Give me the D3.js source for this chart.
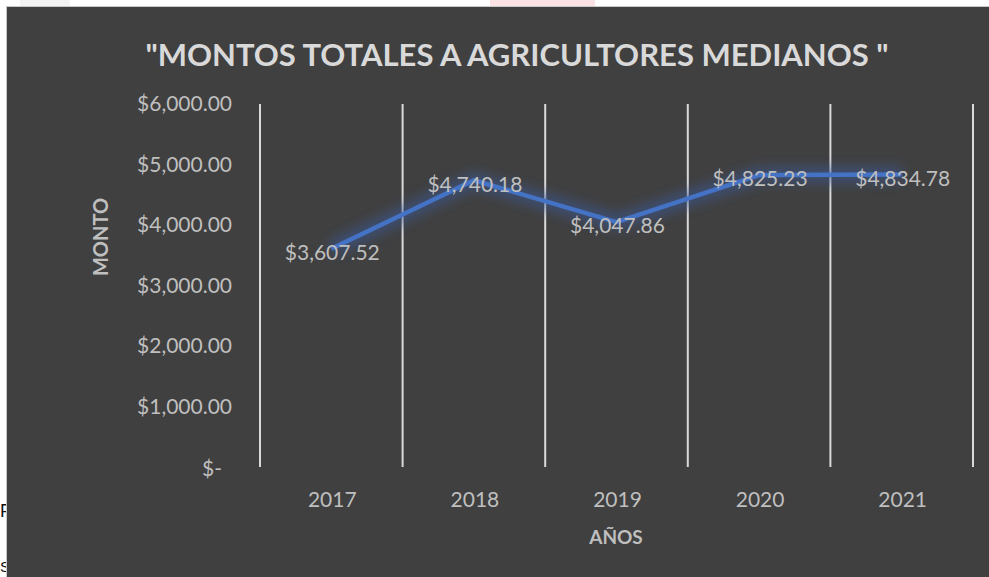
<!DOCTYPE html>
<html>
<head>
<meta charset="utf-8">
<script src="https://cdn.jsdelivr.net/npm/d3@7"></script>
<style>
  html, body { margin: 0; padding: 0; background: #ffffff; }
  svg { display: block; }
</style>
</head>
<body>
<div id="chart"></div>
<script>
// chart data
const years = ["2017", "2018", "2019", "2020", "2021"];
const montos = [3607.52, 4740.18, 4047.86, 4825.23, 4834.78];
const yTicks = [0, 1000, 2000, 3000, 4000, 5000, 6000];

const width = 989, height = 577;
const box = { left: 7, top: 7 };
const plot = { left: 260, right: 973, top: 104, bottom: 467 };

const svg = d3.select("#chart").append("svg")
    .attr("width", width)
    .attr("height", height);

// document text peeking out behind the chart on the left edge
svg.append("text").attr("x", 0).attr("y", 517)
    .attr("font-family", "Liberation Sans, sans-serif").attr("font-size", 18)
    .attr("fill", "#111").text("F");
svg.append("text").attr("x", 0).attr("y", 572)
    .attr("font-family", "Liberation Sans, sans-serif").attr("font-size", 15)
    .attr("fill", "#111").text("S");

// faint watermark strip on top
svg.append("rect").attr("x", 490).attr("y", 0).attr("width", 105).attr("height", box.top)
    .attr("fill", "#fbe3e5");
svg.append("rect").attr("x", 20).attr("y", 0).attr("width", 50).attr("height", box.top)
    .attr("fill", "#f3f3f3");

// chart area
svg.append("rect")
    .attr("x", box.left - 1).attr("y", box.top - 1)
    .attr("width", width - box.left + 1).attr("height", height - box.top + 1)
    .attr("fill", "#c9c9c9");
svg.append("rect")
    .attr("x", box.left).attr("y", box.top)
    .attr("width", width - box.left).attr("height", height - box.top)
    .attr("fill", "#404040");

const x = d3.scaleBand()
    .domain(years)
    .range([plot.left, plot.right]);

const y = d3.scaleLinear()
    .domain([0, 6000])
    .range([plot.bottom, plot.top]);

const fmt = d3.format(",.2f");

// vertical gridlines at category boundaries
const edges = years.map(d => x(d)).concat([x(years[years.length - 1]) + x.bandwidth()]);
svg.append("g")
    .selectAll("line")
    .data(edges)
    .join("line")
    .attr("x1", d => d).attr("x2", d => d)
    .attr("y1", plot.top).attr("y2", plot.bottom)
    .attr("stroke", "#d9d9d9")
    .attr("stroke-width", 2);

// y tick labels
svg.append("g")
    .attr("font-family", "Lato, sans-serif")
    .attr("font-size", 21)
    .attr("fill", "#bfbfbf")
    .selectAll("text")
    .data(yTicks)
    .join("text")
    .attr("x", d => d === 0 ? 222 : 232)
    .attr("y", d => y(d) + (d === 0 ? 2 : 0))
    .attr("dy", "0.35em")
    .attr("text-anchor", "end")
    .text(d => d === 0 ? "$-" : "$" + fmt(d));

// x tick labels
svg.append("g")
    .attr("font-family", "Lato, sans-serif")
    .attr("font-size", 21)
    .attr("fill", "#bfbfbf")
    .selectAll("text")
    .data(years)
    .join("text")
    .attr("x", d => x(d) + x.bandwidth() / 2 + 1)
    .attr("y", 500)
    .attr("dy", "0.35em")
    .attr("text-anchor", "middle")
    .text(d => d);

// axis titles
svg.append("text")
    .attr("x", 616).attr("y", 537).attr("dy", "0.35em")
    .attr("text-anchor", "middle")
    .attr("font-family", "Lato, sans-serif").attr("font-weight", "bold")
    .attr("font-size", 19).attr("fill", "#bfbfbf")
    .text("AÑOS");

svg.append("text")
    .attr("transform", "translate(101,237) rotate(-90)")
    .attr("dy", "0.35em")
    .attr("text-anchor", "middle")
    .attr("font-family", "Lato, sans-serif").attr("font-weight", "bold")
    .attr("font-size", 20).attr("fill", "#bfbfbf")
    .text("MONTO");

// title
svg.append("text")
    .attr("x", 517).attr("y", 55).attr("dy", "0.35em")
    .attr("text-anchor", "middle")
    .attr("font-family", "Lato, sans-serif").attr("font-weight", "bold")
    .attr("font-size", 31).attr("fill", "#d9d9d9")
    .text("\"MONTOS TOTALES A AGRICULTORES MEDIANOS \"");

// glow filter for the line
const defs = svg.append("defs");
defs.append("filter")
    .attr("id", "glow")
    .attr("x", "-20%").attr("y", "-50%")
    .attr("width", "140%").attr("height", "200%")
    .append("feGaussianBlur")
    .attr("stdDeviation", 6);

const line = d3.line()
    .x((d, i) => x(years[i]) + x.bandwidth() / 2)
    .y(d => y(d));

svg.append("path")
    .datum(montos)
    .attr("d", line)
    .attr("fill", "none")
    .attr("stroke", "#3a5a9a")
    .attr("stroke-width", 16)
    .attr("stroke-opacity", 0.55)
    .attr("stroke-linejoin", "round")
    .attr("filter", "url(#glow)");

svg.append("path")
    .datum(montos)
    .attr("d", line)
    .attr("fill", "none")
    .attr("stroke", "#4472c4")
    .attr("stroke-width", 4.5)
    .attr("stroke-linejoin", "round");

// data labels centred on the points
svg.append("g")
    .attr("font-family", "Lato, sans-serif")
    .attr("font-size", 21)
    .attr("fill", "#bfbfbf")
    .selectAll("text")
    .data(montos)
    .join("text")
    .attr("x", (d, i) => x(years[i]) + x.bandwidth() / 2 + 1)
    .attr("y", d => y(d) + 4)
    .attr("dy", "0.35em")
    .attr("text-anchor", "middle")
    .text(d => "$" + fmt(d));
</script>
</body>
</html>
